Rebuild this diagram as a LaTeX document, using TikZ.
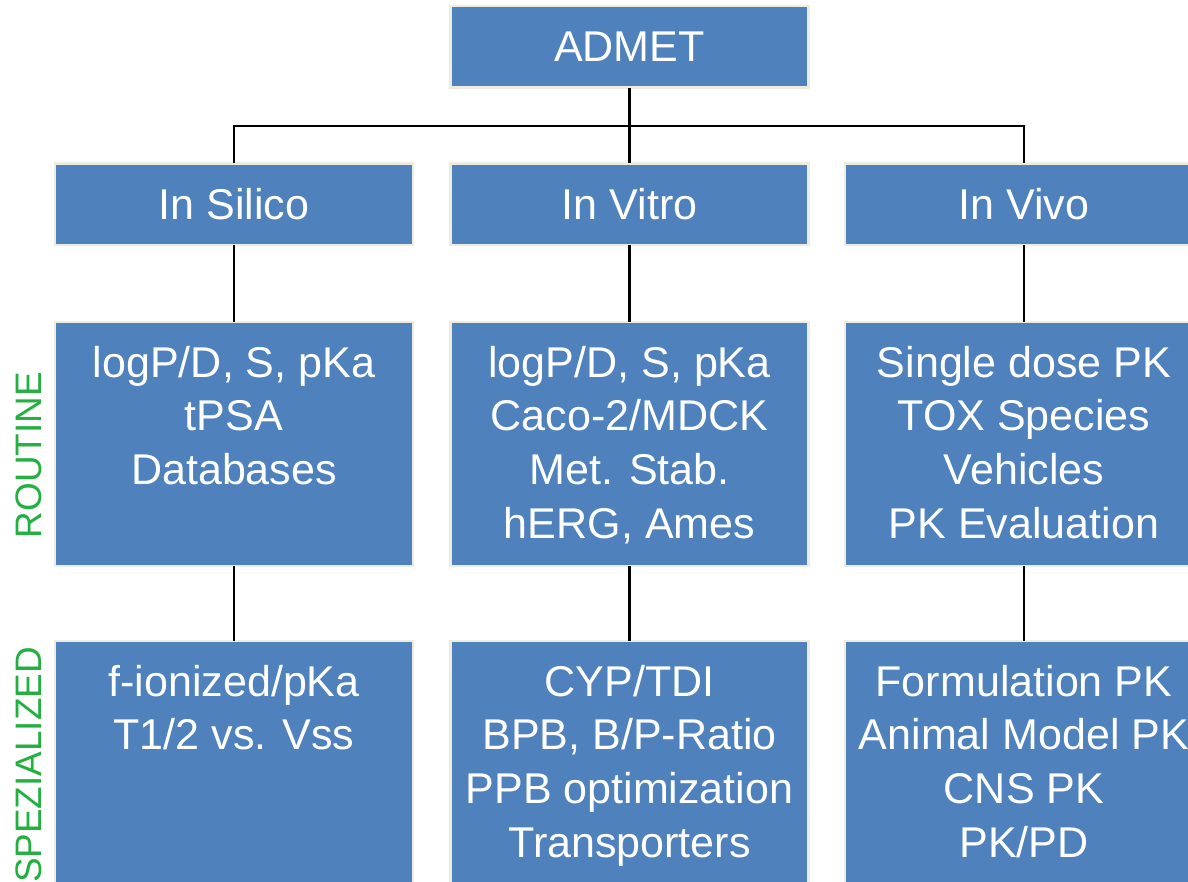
\documentclass[tikz,border=0pt]{standalone}
\usepackage{fontspec}
\setmainfont{Liberation Sans}
\definecolor{boxblue}{RGB}{79,129,189}
\definecolor{boxedge}{RGB}{238,236,225}
\definecolor{sidegreen}{RGB}{36,176,64}
\begin{document}
\begin{tikzpicture}[x=0.02cm, y=-0.02cm,
    box/.style={fill=boxblue, draw=boxedge, line width=1.4pt, minimum width=7.16cm,
      inner sep=0pt, outer sep=0pt, text=white, font=\fontsize{24.5}{30.6}\selectfont},
    head/.style={box, minimum height=1.63cm},
    tall/.style={box, minimum height=4.88cm},
    txt/.style={text=white, align=center, anchor=north, inner sep=0pt,
      font=\fontsize{24.5}{30.6}\selectfont},
    side/.style={text=sidegreen, rotate=90, inner sep=0pt, font=\fontsize{21}{25}\selectfont},
    link/.style={line width=1.45pt}]
  \useasboundingbox (0,0) rectangle (1188,882);
  \clip (0,0) rectangle (1188,882);
  \path (234,126) coordinate (L);
  \path (1024,126) coordinate (R);
  \node[head] (A) at (629.5,46.8) {ADMET};
  \node[head] (Si) at (234,204.2) {In Silico};
  \node[head] (Vt) at (629.5,204.2) {In Vitro};
  \node[head] (Vv) at (1024,204.2) {In Vivo};
  \node[tall] (Si1) at (234,444) {};
  \node[tall] (Vt1) at (629.5,444) {};
  \node[tall] (Vv1) at (1024,444) {};
  \node[tall] (Si2) at (234,763) {};
  \node[tall] (Vt2) at (629.5,763) {};
  \node[tall] (Vv2) at (1024,763) {};
  \draw[link] (A.south) -- (A.south |- L);
  \draw[link] (Si.north) -- (L) -- (R) -- (Vv.north);
  \draw[link] (Vt.north) -- (Vt.north |- L);
  \foreach \c in {Si,Vt,Vv} {
    \draw[link] (\c.south) -- (\c1.north);
    \draw[link] (\c1.south) -- (\c2.north);
  }
  \node[txt] (Si1t) at (234,345.6) {logP/D, S, pKa\\tPSA\\Databases};
  \node[txt] (Vt1t) at (629.5,345.6) {logP/D, S, pKa\\Caco-2/MDCK\\Met. Stab.\\hERG, Ames};
  \node[txt] (Vv1t) at (1024,345.6) {Single dose PK\\TOX Species\\Vehicles\\PK Evaluation};
  \node[txt] (Si2t) at (234,664.6) {f-ionized/pKa\\T1/2 vs. Vss};
  \node[txt] (Vt2t) at (629.5,664.6) {CYP/TDI\\BPB, B/P-Ratio\\PPB optimization\\Transporters};
  \node[txt] (Vv2t) at (1024,664.6) {Formulation PK\\Animal Model PK\\CNS PK\\PK/PD};
  \node[side] (Rt) at (28.5,455) {ROUTINE};
  \node[side] (Sp) at (28.5,765) {SPEZIALIZED};
\end{tikzpicture}
\end{document}
